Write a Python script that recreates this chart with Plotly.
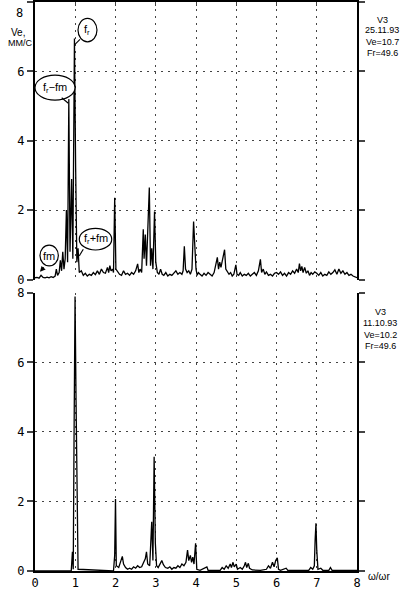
import plotly.graph_objects as go

# ---------------- data ----------------
top_x = [0.00, 0.05, 0.10, 0.15, 0.20, 0.25, 0.30, 0.35, 0.40, 0.45, 0.50, 0.53, 0.56, 0.60, 0.63, 0.66,
         0.69, 0.72, 0.75, 0.78, 0.81, 0.84, 0.87, 0.91, 0.94, 0.98, 1.01, 1.04, 1.07, 1.10,
         1.15, 1.20, 1.25, 1.30, 1.35, 1.40, 1.45, 1.50, 1.55, 1.60, 1.65, 1.70, 1.75, 1.80, 1.83, 1.86,
         1.89, 1.93, 1.95, 1.98, 2.01, 2.06, 2.10, 2.15, 2.20, 2.25, 2.30, 2.35, 2.40, 2.45, 2.50, 2.55,
         2.58, 2.61, 2.65, 2.69, 2.71, 2.74, 2.77, 2.84, 2.87, 2.90, 2.93, 2.97, 3.00, 3.04, 3.08, 3.12,
         3.16, 3.20, 3.25, 3.30, 3.35, 3.40, 3.45, 3.50, 3.55, 3.60, 3.65, 3.68, 3.71, 3.74, 3.78, 3.82,
         3.86, 3.90, 3.94, 3.98, 4.00, 4.03, 4.06, 4.10, 4.15, 4.20, 4.25, 4.30, 4.35, 4.40, 4.45, 4.49,
         4.53, 4.56, 4.59, 4.62, 4.66, 4.71, 4.74, 4.78, 4.82, 4.86, 4.90, 4.94, 4.99, 5.02, 5.06, 5.10,
         5.15, 5.20, 5.25, 5.30, 5.35, 5.40, 5.45, 5.50, 5.55, 5.60, 5.63, 5.67, 5.71, 5.75, 5.80, 5.85,
         5.90, 5.95, 6.00, 6.05, 6.10, 6.15, 6.20, 6.25, 6.30, 6.35, 6.40, 6.45, 6.50, 6.54, 6.57, 6.60,
         6.63, 6.66, 6.70, 6.74, 6.78, 6.82, 6.86, 6.90, 6.95, 7.00, 7.05, 7.10, 7.15, 7.20, 7.25, 7.30,
         7.35, 7.40, 7.45, 7.50, 7.55, 7.60, 7.65, 7.70, 7.75, 7.80, 7.85, 7.90, 7.95, 8.00]
top_y = [0.05, 0.06, 0.04, 0.12, 0.06, 0.05, 0.07, 0.05, 0.08, 0.06, 0.10, 0.30, 0.12, 0.20, 0.55, 0.25,
         0.80, 0.30, 0.60, 2.00, 0.50, 5.20, 0.80, 2.90, 0.60, 6.95, 3.20, 0.50, 0.90, 0.20,
         0.25, 0.12, 0.18, 0.10, 0.15, 0.12, 0.20, 0.14, 0.25, 0.15, 0.30, 0.20, 0.18, 0.35, 0.20, 0.40,
         0.25, 0.30, 0.20, 2.36, 0.30, 0.20, 0.15, 0.12, 0.25, 0.15, 0.18, 0.12, 0.20, 0.15, 0.25, 0.45,
         0.20, 0.30, 0.20, 1.45, 0.60, 1.30, 0.40, 2.65, 0.40, 0.90, 0.30, 1.96, 0.50, 0.20, 0.15, 0.30,
         0.15, 0.12, 0.20, 0.10, 0.15, 0.12, 0.20, 0.25, 0.15, 0.20, 0.15, 0.25, 0.96, 0.30, 0.20, 0.25,
         0.15, 0.30, 1.67, 0.80, 0.30, 0.12, 0.20, 0.15, 0.10, 0.18, 0.12, 0.20, 0.15, 0.10, 0.20, 0.40,
         0.64, 0.30, 0.50, 0.35, 0.60, 0.86, 0.30, 0.20, 0.15, 0.20, 0.10, 0.15, 0.42, 0.15, 0.12, 0.20,
         0.10, 0.15, 0.12, 0.18, 0.10, 0.15, 0.20, 0.12, 0.25, 0.58, 0.20, 0.30, 0.15, 0.22, 0.12, 0.15,
         0.10, 0.18, 0.20, 0.15, 0.22, 0.12, 0.18, 0.10, 0.20, 0.15, 0.25, 0.18, 0.30, 0.20, 0.46, 0.25,
         0.38, 0.20, 0.35, 0.18, 0.25, 0.12, 0.20, 0.15, 0.22, 0.18, 0.12, 0.20, 0.10, 0.15, 0.12, 0.22,
         0.15, 0.20, 0.28, 0.15, 0.30, 0.18, 0.25, 0.15, 0.20, 0.12, 0.15, 0.10, 0.08, 0.05]

bot_x = [0.00, 0.90, 0.93, 0.95, 0.97, 0.995, 1.02, 1.05, 1.07, 1.95, 1.98, 2.00, 2.02, 2.08, 2.13, 2.17,
         2.20, 2.25, 2.30, 2.35, 2.40, 2.45, 2.50, 2.55, 2.60, 2.65, 2.70, 2.74, 2.77, 2.80, 2.85, 2.90,
         2.93, 2.96, 2.99, 3.02, 3.06, 3.10, 3.15, 3.19, 3.24, 3.30, 3.35, 3.40, 3.45, 3.50, 3.55, 3.60,
         3.65, 3.70, 3.75, 3.79, 3.82, 3.86, 3.89, 3.92, 3.95, 3.99, 4.02, 4.10, 4.27, 4.30, 4.60, 4.65,
         4.70, 4.75, 4.80, 4.85, 4.88, 4.92, 4.95, 5.00, 5.03, 5.10, 5.15, 5.20, 5.23, 5.26, 5.30, 5.33,
         5.40, 5.60, 5.75, 5.80, 5.85, 5.90, 5.94, 5.98, 6.02, 6.05, 6.10, 6.24, 6.28, 6.80, 6.85, 6.90,
         6.94, 6.96, 6.98, 7.00, 7.03, 7.10, 7.15, 7.30, 7.34, 7.38, 8.00]
bot_y = [0.00, 0.00, 0.55, 0.05, 3.80, 7.90, 4.90, 1.10, 0.05, 0.00, 0.45, 2.07, 0.15, 0.10, 0.25, 0.42,
         0.20, 0.10, 0.05, 0.08, 0.05, 0.12, 0.08, 0.15, 0.10, 0.12, 0.25, 0.35, 0.55, 0.20, 0.15, 1.42,
         0.30, 3.29, 0.80, 0.15, 0.10, 0.20, 0.30, 0.18, 0.10, 0.08, 0.12, 0.05, 0.10, 0.08, 0.15, 0.10,
         0.20, 0.15, 0.25, 0.60, 0.30, 0.45, 0.25, 0.40, 0.20, 0.80, 0.05, 0.02, 0.12, 0.02, 0.02, 0.10,
         0.05, 0.15, 0.08, 0.20, 0.10, 0.25, 0.12, 0.20, 0.05, 0.10, 0.05, 0.15, 0.25, 0.10, 0.22, 0.08,
         0.03, 0.02, 0.05, 0.15, 0.08, 0.25, 0.12, 0.30, 0.38, 0.05, 0.02, 0.08, 0.02, 0.02, 0.10, 0.05,
         0.15, 0.90, 1.37, 0.60, 0.05, 0.08, 0.02, 0.02, 0.10, 0.02, 0.02]

x_ticks = [0, 1, 2, 3, 4, 5, 6, 7, 8]
y_ticks = [0, 2, 4, 6, 8]
top_info = ["V3", "25.11.93", "Ve=10.7", "Fr=49.6"]
bot_info = ["V3", "11.10.93", "Ve=10.2", "Fr=49.6"]

# ---------------- figure ----------------
FONT = "DejaVu Sans Mono"
SMALL = "Liberation Sans"
fig = go.Figure()
fig.add_trace(go.Scatter(x=top_x, y=top_y, mode="lines", xaxis="x2", yaxis="y2",
                         line=dict(color="black", width=1.3), hoverinfo="skip"))
fig.add_trace(go.Scatter(x=bot_x, y=bot_y, mode="lines", xaxis="x", yaxis="y",
                         line=dict(color="black", width=1.3), hoverinfo="skip"))

grid = dict(showgrid=True, gridcolor="#444", gridwidth=1.2, griddash="2px,5px")

top_ticktext = [str(v) for v in y_ticks[:-1]] + [""]

fig.update_layout(
    width=406, height=591, margin=dict(l=35, r=49, t=2, b=20),
    paper_bgcolor="white", plot_bgcolor="white", showlegend=False,
    font=dict(family=FONT, size=11, color="black"),
    xaxis=dict(range=[0, 8], tickvals=x_ticks, ticktext=[str(v) for v in x_ticks],
               showline=True, linecolor="black", linewidth=1.5, ticks="", zeroline=False,
               anchor="y", tickfont=dict(size=12), automargin=False, **grid),
    xaxis2=dict(range=[0, 8], tickvals=x_ticks, showticklabels=False, side="top",
                showline=True, linecolor="black", linewidth=1.5, ticks="inside", ticklen=4,
                zeroline=False, anchor="y2", matches="x", automargin=False, **grid),
    yaxis=dict(domain=[0, 0.4886], range=[0, 8], tickvals=y_ticks,
               showline=True, linecolor="black", linewidth=2, mirror="ticks",
               ticks="outside", ticklen=6, tickwidth=1.5, zeroline=False,
               tickfont=dict(size=12), automargin=False, **grid),
    yaxis2=dict(domain=[0.5123, 1], range=[0, 8], tickvals=y_ticks, ticktext=top_ticktext,
                showline=True, linecolor="black", linewidth=2, mirror="ticks",
                ticks="outside", ticklen=6, tickwidth=1.5, zeroline=False, anchor="x2",
                tickfont=dict(size=12), automargin=False, **grid),
)

# top "8" label sits just below its tick
fig.add_annotation(text=str(y_ticks[-1]), xref="paper", yref="paper", x=-0.03, y=0.981,
                   showarrow=False, font=dict(size=12), xanchor="right", yanchor="middle")
# unit label and x title
fig.add_annotation(text="Ve,", xref="paper", yref="paper", x=-0.053, y=0.947,
                   showarrow=False, font=dict(family=SMALL, size=10), xanchor="center", yanchor="middle")
fig.add_annotation(text="ММ/С", xref="paper", yref="paper", x=-0.047, y=0.928,
                   showarrow=False, font=dict(family=SMALL, size=9), xanchor="center", yanchor="middle")
fig.add_annotation(text="ω/ωr", xref="paper", yref="paper", x=1.068, y=-0.009,
                   showarrow=False, font=dict(family=SMALL, size=10), xanchor="center", yanchor="middle")

# info blocks
for txt, yy in zip(top_info, [0.968, 0.951, 0.930, 0.910]):
    fig.add_annotation(text=txt, xref="paper", yref="paper", x=1.078, y=yy, showarrow=False,
                       font=dict(family=SMALL, size=9), xanchor="center", yanchor="middle")
for txt, yy in zip(bot_info, [0.4557, 0.4359, 0.4148, 0.3954]):
    fig.add_annotation(text=txt, xref="paper", yref="paper", x=1.072, y=yy, showarrow=False,
                       font=dict(family=SMALL, size=9), xanchor="center", yanchor="middle")

# peak call-outs (ellipses + labels + pointers) in the top panel
callouts = [
    ("f<sub>r</sub>", 1.068, 1.54, 6.85, 7.53, (1.118, 6.92), (0.994, 6.78), False),
    ("f<sub>r</sub>−fm", 0.0, 0.994, 5.17, 5.89, (0.663, 5.24), (0.828, 5.08), False),
    ("f<sub>r</sub>+fm", 1.10, 1.906, 0.85, 1.475, (1.20, 0.87), (1.10, 0.68), False),
    ("fm", 0.124, 0.58, 0.39, 0.99, (0.25, 0.39), (0.124, 0.22), True),
]
for txt, x0, x1, y0, y1, p0, p1, arrow in callouts:
    fig.add_shape(type="circle", xref="x2", yref="y2", x0=x0, x1=x1, y0=y0, y1=y1,
                  line=dict(color="black", width=1.2), fillcolor="white", layer="above")
    fig.add_annotation(text=txt, xref="x2", yref="y2", x=(x0 + x1) / 2, y=(y0 + y1) / 2,
                       showarrow=False, font=dict(family=SMALL, size=11),
                       xanchor="center", yanchor="middle")
    if arrow:
        fig.add_annotation(x=p1[0], y=p1[1], ax=p0[0], ay=p0[1], xref="x2", yref="y2",
                           axref="x2", ayref="y2", text="", showarrow=True, arrowhead=2,
                           arrowsize=1, arrowwidth=1.1, arrowcolor="black")
    else:
        fig.add_shape(type="line", xref="x2", yref="y2", x0=p0[0], y0=p0[1], x1=p1[0], y1=p1[1],
                      line=dict(color="black", width=1.1))

fig.write_html("out.html", config={"displayModeBar": False},
               post_script="document.body.style.margin='0px';")
